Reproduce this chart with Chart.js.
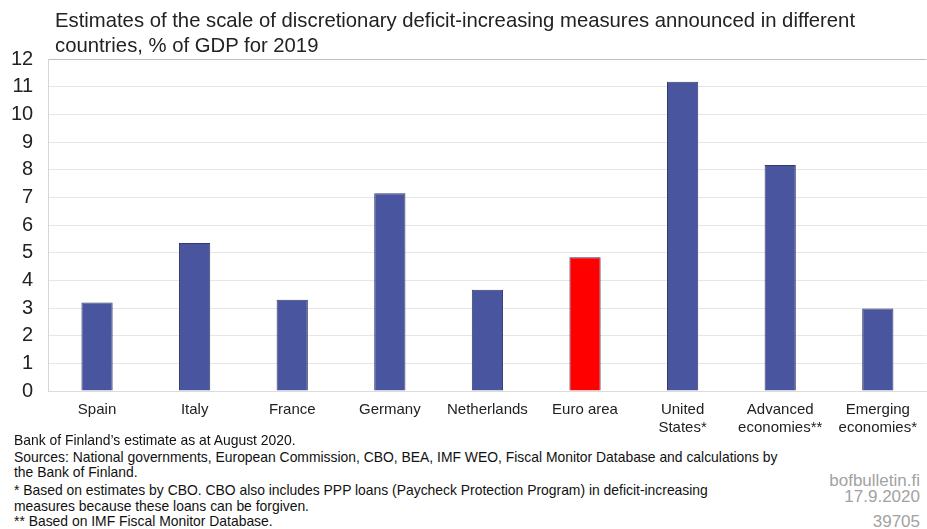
<!DOCTYPE html>
<html>
<head>
<meta charset="utf-8">
<script src="https://cdn.jsdelivr.net/npm/chart.js@4.4.0/dist/chart.umd.min.js"></script>
<style>
  html, body { margin: 0; padding: 0; background: #fff; }
  body { width: 927px; height: 529px; position: relative; overflow: hidden; font-family: "Liberation Sans", Arial, sans-serif; }
  #subtitle { position: absolute; left: 55px; top: 8px; font-size: 20.3px; line-height: 25px; color: #222; white-space: nowrap; }
  #wrap { position: absolute; left: 0; top: 0; width: 927px; height: 447px; }
  .note { position: absolute; left: 14px; font-size: 13.9px; color: #111; white-space: nowrap; }
  .src { position: absolute; right: 7px; color: #a2a2a2; font-size: 17px; text-align: right; }
</style>
</head>
<body>
<div id="wrap"><canvas id="bar"></canvas></div>
<div id="subtitle">Estimates of the scale of discretionary deficit-increasing measures announced in different<br>countries, % of GDP for 2019</div>

<div class="note" style="top:432px">Bank of Finland’s estimate as at August 2020.</div>
<div class="note" style="top:449px">Sources: National governments, European Commission, CBO, BEA, IMF WEO, Fiscal Monitor Database and calculations by</div>
<div class="note" style="top:464px">the Bank of Finland.</div>
<div class="note" style="top:482px">* Based on estimates by CBO. CBO also includes PPP loans (Paycheck Protection Program) in deficit-increasing</div>
<div class="note" style="top:498px">measures because these loans can be forgiven.</div>
<div class="note" style="top:513px">** Based on IMF Fiscal Monitor Database.</div>

<div class="src" style="top:471px">bofbulletin.fi</div>
<div class="src" style="top:487px">17.9.2020</div>
<div class="src" style="top:512px">39705</div>

<script>
// categories and values (% of GDP for 2019)
const countries = ['Spain', 'Italy', 'France', 'Germany', 'Netherlands', 'Euro area',
  ['United', 'States*'], ['Advanced', 'economies**'], ['Emerging', 'economies*']];
const measures = [3.2, 5.35, 3.3, 7.15, 3.66, 4.83, 11.18, 8.17, 2.98];
const yTicks = [0, 1, 2, 3, 4, 5, 6, 7, 8, 9, 10, 11, 12];

const blue = '#4a55a0';
const red = '#ff0000';
const barColors = countries.map((c) => (c === 'Euro area' ? red : blue));

const ctx = document.getElementById('bar');
new Chart(ctx, {
  type: 'bar',
  data: {
    labels: countries,
    datasets: [{
      data: measures,
      backgroundColor: barColors,
      borderColor: '#333a6a',
      borderWidth: { top: 1, left: 1, right: 1, bottom: 0 },
      borderSkipped: false,
      barPercentage: 0.32,
      categoryPercentage: 1
    }]
  },
  options: {
    responsive: true,
    maintainAspectRatio: false,
    animation: false,
    layout: { padding: { top: 59, left: -4, right: 0, bottom: 0 } },
    plugins: {
      legend: { display: false },
      tooltip: { enabled: false }
    },
    scales: {
      x: {
        grid: { display: false, drawTicks: false },
        border: { color: '#dcdcdc' },
        ticks: {
          color: '#222',
          padding: 10,
          maxRotation: 0,
          autoSkip: false,
          font: { family: 'Liberation Sans', size: 15 }
        }
      },
      y: {
        min: 0,
        max: 12,
        afterBuildTicks: (axis) => { axis.ticks = yTicks.map((v) => ({ value: v })); },
        grid: {
          drawTicks: false,
          color: (c) => (c.tick && c.tick.value === 12 ? '#bdbdbd' : '#e6e6e6')
        },
        border: { color: '#d6d6d6' },
        ticks: {
          color: '#222',
          padding: 15,
          font: { family: 'Liberation Sans', size: 20 }
        }
      }
    }
  }
});
</script>
</body>
</html>
